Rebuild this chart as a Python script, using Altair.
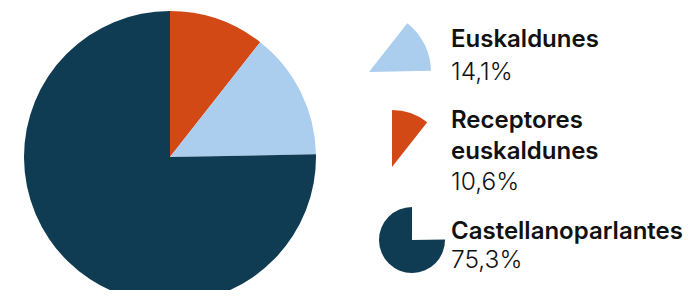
import altair as alt
import pandas as pd
import math

# ---- data ----
categories = ["Receptores euskaldunes", "Euskaldunes", "Castellanoparlantes"]
values = [10.6, 14.1, 75.3]
pct_labels = ["10,6%", "14,1%", "75,3%"]
legend_titles = ["Receptores\neuskaldunes", "Euskaldunes", "Castellanoparlantes"]
colors = ["#d34916", "#abcdee", "#0f3c52"]

df = pd.DataFrame({"cat": categories, "value": values, "pct": pct_labels, "title": legend_titles})
df["end"] = df["value"].cumsum()
df["start"] = df["end"] - df["value"]

theta_scale = alt.Scale(domain=[0, 100], range=[0, 2 * math.pi])
color_scale = alt.Scale(domain=categories, range=colors)

base = alt.Chart(df)

def arc_layer(cat, cx, cy, r):
    return base.transform_filter(alt.datum.cat == cat).mark_arc(outerRadius=r, stroke=None).encode(
        theta=alt.Theta("start:Q", scale=theta_scale),
        theta2="end:Q",
        color=alt.Color("cat:N", scale=color_scale, legend=None),
        x=alt.value(cx),
        y=alt.value(cy),
    )

layers = []
# main pie
layers.append(base.mark_arc(outerRadius=146, stroke=None).encode(
    theta=alt.Theta("start:Q", scale=theta_scale),
    theta2="end:Q",
    color=alt.Color("cat:N", scale=color_scale, legend=None),
    x=alt.value(162),
    y=alt.value(149),
))

# legend icons (each slice alone, scaled down)
layers.append(arc_layer("Euskaldunes", 361, 64, 62))
layers.append(arc_layer("Receptores euskaldunes", 384, 159, 57))
layers.append(arc_layer("Castellanoparlantes", 404, 232, 33))

font = "Inter"
text_x = 443
label_y = {"Euskaldunes": 39, "Receptores euskaldunes": 120, "Castellanoparlantes": 231}
pct_y = {"Euskaldunes": 72, "Receptores euskaldunes": 182, "Castellanoparlantes": 260}

for cat in categories:
    layers.append(base.transform_filter(alt.datum.cat == cat).mark_text(
        align="left", baseline="alphabetic", font=font, fontSize=24, fontWeight=600,
        color="#111111", lineBreak="\n", lineHeight=31,
    ).encode(text="title:N", x=alt.value(text_x), y=alt.value(label_y[cat])))
    layers.append(base.transform_filter(alt.datum.cat == cat).mark_text(
        align="left", baseline="alphabetic", font=font, fontSize=24.5, fontWeight=300,
        color="#111111",
    ).encode(text="pct:N", x=alt.value(text_x), y=alt.value(pct_y[cat])))

chart = alt.layer(*layers).properties(
    width=677, height=282, padding=0,
    autosize=alt.AutoSizeParams(type="none"),
).configure_view(stroke=None)

chart.save("out.html", embed_options={"renderer": "svg", "actions": False})
